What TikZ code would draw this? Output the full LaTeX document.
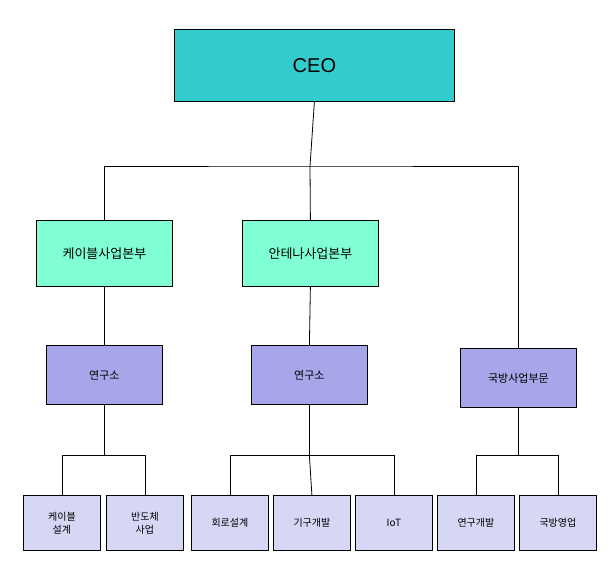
\documentclass[tikz,border=0pt]{standalone}
\usepackage{fontspec}
\setmainfont{Liberation Sans}
\newfontfamily\kr{Noto Sans CJK KR}
\definecolor{ceo}{HTML}{33CCCC}
\definecolor{div}{HTML}{80FFD4}
\definecolor{lab}{HTML}{A6A6E8}
\definecolor{team}{HTML}{D6D6F5}
\begin{document}
\begin{tikzpicture}[x=1pt,y=-1pt,
 box/.style={draw=black,line width=0.8pt,inner sep=0pt,align=center,anchor=north west},
 ln/.style={line width=0.8pt}]
\useasboundingbox (0,0) rectangle (616,563);
\node[box,fill=ceo,minimum width=280,minimum height=72,font=\fontsize{20}{24}\selectfont] (ceo) at (174,29) {CEO};
\node[box,fill=div,minimum width=136,minimum height=66,font=\kr\fontsize{13}{16}\selectfont] (d1) at (36,220) {케이블사업본부};
\node[box,fill=div,minimum width=136,minimum height=66,font=\kr\fontsize{13}{16}\selectfont] (d2) at (242,220) {안테나사업본부};
\node[box,fill=lab,minimum width=116,minimum height=59,font=\kr\fontsize{11}{14}\selectfont] (l1) at (46,345) {연구소};
\node[box,fill=lab,minimum width=116,minimum height=59,font=\kr\fontsize{11}{14}\selectfont] (l2) at (251,345) {연구소};
\node[box,fill=lab,minimum width=116,minimum height=59,font=\kr\fontsize{11}{14}\selectfont] (d3) at (460,348) {국방사업부문};
\tikzset{tm/.style={box,fill=team,minimum width=77,minimum height=55,font=\kr\fontsize{10}{13}\selectfont}}
\node[tm] (t1) at (23,495) {케이블\\설계};
\node[tm] (t2) at (106,495) {반도체\\사업};
\node[tm] (t3) at (191,495) {회로설계};
\node[tm] (t4) at (273,495) {기구개발};
\node[tm] (t5) at (355,495) {IoT};
\node[tm] (t6) at (437,495) {연구개발};
\node[tm] (t7) at (519,495) {국방영업};
\coordinate (h) at (310,166);
\draw[ln] (ceo.south) -- (h);
\draw[ln] (d1.north) |- (h) -| (d3.north);
\draw[ln] (h) -- (d2.north);
\draw[ln] (d1.south) -- (l1.north);
\draw[ln] (d2.south) -- (l2.north);
\draw[ln] (l1.south) -- ++(0,51) coordinate (a);
\draw[ln] (t1.north) |- (a) -| (t2.north);
\draw[ln] (l2.south) -- ++(0,51) coordinate (b);
\draw[ln] (t3.north) |- (b) -| (t5.north);
\draw[ln] (b) -- (t4.north);
\draw[ln] (d3.south) -- ++(0,48) coordinate (c);
\draw[ln] (t6.north) |- (c) -| (t7.north);
\end{tikzpicture}
\end{document}
